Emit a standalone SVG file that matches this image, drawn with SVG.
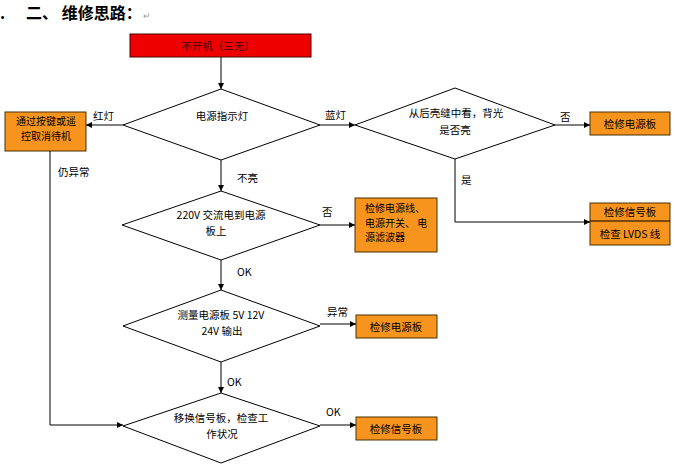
<svg xmlns="http://www.w3.org/2000/svg" width="675" height="469" viewBox="0 0 675 469">
<defs>
<marker id="ah" viewBox="0 0 10 10" refX="10" refY="5" markerWidth="7" markerHeight="6" orient="auto" markerUnits="userSpaceOnUse">
<path d="M0,0 L10,5 L0,10 z" fill="#000"/>
</marker>
<style>
text{font-family:"Noto Sans CJK SC","Liberation Serif",sans-serif;font-size:10.5px;fill:#000}
.t{font-weight:bold;font-size:16px}
.m{text-anchor:middle}
.s{font-size:10px}
.box{fill:#F7941D;stroke:#4a3000;stroke-width:1}
.red{fill:#EE0000;stroke:#4a0000;stroke-width:1}
.dia{fill:#fff;stroke:#000;stroke-width:1}
.c{fill:none;stroke:#000;stroke-width:1;marker-end:url(#ah)}
.ln{fill:none;stroke:#000;stroke-width:1}
</style>
</defs>
<rect width="675" height="469" fill="#fff"/>
<g id="title">
<text class="t" x="0" y="19">.</text>
<text class="t" x="26" y="19">二、 维修思路：</text>
<text x="143" y="19" style="font-size:9px;fill:#999">↵</text>
</g>
<g id="start">
<rect class="red" x="130" y="34" width="181" height="23"/>
<text class="m" x="218" y="50" style="fill:#300">不开机（三无）</text>
</g>
<g id="d1">
<polygon class="dia" points="221,89 320,125 221,160 123,125"/>
<text class="m" x="222" y="120">电源指示灯</text>
</g>
<g id="standby">
<rect class="box" x="5" y="112" width="81" height="39"/>
<text class="m s" x="46" y="125">通过按键或遥</text>
<text class="m s" x="46" y="140">控取消待机</text>
</g>
<g id="d2">
<polygon class="dia" points="455,88 555,125 455,159 355,125"/>
<text class="m" x="456" y="117">从后壳缝中看，背光</text>
<text class="m" x="455" y="134">是否亮</text>
</g>
<g id="r1">
<rect class="box" x="590" y="112" width="80" height="23"/>
<text class="m" x="630" y="128">检修电源板</text>
</g>
<g id="r2">
<rect class="box" x="590" y="203" width="80" height="42"/>
<line class="ln" x1="590" y1="221" x2="670" y2="221"/>
<text class="m" x="630" y="216">检修信号板</text>
<text class="m" x="630" y="238">检查 LVDS 线</text>
</g>
<g id="d3">
<polygon class="dia" points="221,191 320,225 221,260 122,225"/>
<text class="m" x="221" y="219">220V 交流电到电源</text>
<text class="m" x="216" y="235">板上</text>
</g>
<g id="b3">
<rect class="box" x="355" y="198" width="82" height="54"/>
<text class="s" x="365" y="212">检修电源线、</text>
<text class="s" x="365" y="226.5">电源开关、 电</text>
<text class="s" x="365" y="241">源滤波器</text>
</g>
<g id="d4">
<polygon class="dia" points="221,290 320,326 221,362 123,326"/>
<text class="m" x="221" y="319">测量电源板 5V 12V</text>
<text class="m" x="222" y="335">24V 输出</text>
</g>
<g id="b4">
<rect class="box" x="356" y="315" width="81" height="23"/>
<text class="m" x="396" y="331">检修电源板</text>
</g>
<g id="d5">
<polygon class="dia" points="221,393 320,426 221,463 123,426"/>
<text class="m" x="221" y="422">移换信号板，检查工</text>
<text class="m" x="222" y="438">作状况</text>
</g>
<g id="b5">
<rect class="box" x="356" y="417" width="81" height="23"/>
<text class="m" x="396" y="433">检修信号板</text>
</g>
<g id="connectors">
<path class="c" d="M221,57 L221,89"/>
<path class="c" d="M123,125 L86,125"/>
<path class="c" d="M320,125 L355,125"/>
<path class="c" d="M555,125 L590,125"/>
<path class="c" d="M455,159 L455,222 L590,222"/>
<path class="c" d="M221,160 L221,191"/>
<path class="c" d="M320,225 L355,225"/>
<path class="c" d="M221,260 L221,290"/>
<path class="c" d="M320,324 L356,324"/>
<path class="c" d="M221,362 L221,393"/>
<path class="c" d="M320,425 L356,425"/>
<path class="c" d="M50,151 L50,425 L123,425"/>
<text x="93" y="120">红灯</text>
<text x="325" y="119">蓝灯</text>
<text x="560" y="121">否</text>
<text x="461" y="184">是</text>
<text x="237" y="182">不亮</text>
<text x="322" y="216">否</text>
<text x="237" y="276">OK</text>
<text x="327" y="316">异常</text>
<text x="227" y="386">OK</text>
<text x="326" y="416">OK</text>
<text x="58" y="176">仍异常</text>
</g>
</svg>
